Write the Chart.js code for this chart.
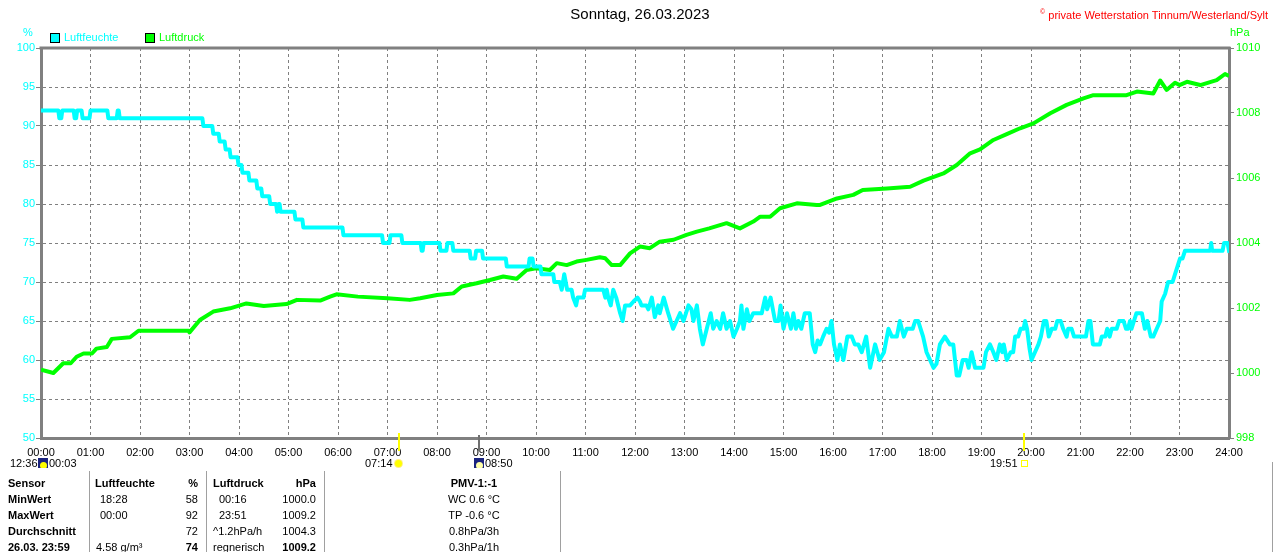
<!DOCTYPE html>
<html>
<head>
<meta charset="utf-8">
<script src="https://cdn.jsdelivr.net/npm/chart.js@4.4.1/dist/chart.umd.min.js"></script>
<style>
  html, body { margin:0; padding:0; background:#fff; }
  #wrap { position:relative; width:1280px; height:552px; overflow:hidden; font-family:"Liberation Sans", Arial, sans-serif; font-size:11px; line-height:13px; }
  #c { position:absolute; left:0; top:0; }
  .t { position:absolute; white-space:nowrap; }
  .b { font-weight:bold; }
  .r { text-align:right; width:80px; }
  .ctr { text-align:center; width:120px; }
  .sep { position:absolute; top:471px; width:1px; height:81px; background:#a0a0a0; }
  .box { position:absolute; width:8px; height:8px; border:1px solid #000; }
  .moon { position:absolute; width:10px; height:10px; background:#1a237e; overflow:hidden; }
  .moon i { position:absolute; left:2px; top:4px; width:7px; height:7px; border-radius:50%; background:#ffff00; }
</style>
</head>
<body>
<div id="wrap">
  <canvas id="c" width="1280" height="552"></canvas>

  <div class="t" style="right:12px; top:5px; color:#ff0000;"><sup style="font-size:7px;">©</sup> private Wetterstation Tinnum/Westerland/Sylt</div>
  <div class="t" style="left:23px; top:26px; color:#00ffff;">%</div>
  <div class="t" style="left:1230px; top:26px; color:#00ff00;">hPa</div>
  <div class="box" style="left:50px; top:33px; background:#00ffff;"></div>
  <div class="t" style="left:64px; top:31px; color:#00ffff;">Luftfeuchte</div>
  <div class="box" style="left:145px; top:33px; background:#00ff00;"></div>
  <div class="t" style="left:159px; top:31px; color:#00ff00;">Luftdruck</div>

  <!-- sun / moon markers -->
  <div style="position:absolute; left:398px; top:433px; width:2px; height:18px; background:#ffff00;"></div>
  <div style="position:absolute; left:1023px; top:433px; width:2px; height:18px; background:#ffff00;"></div>
  <div style="position:absolute; left:478px; top:435px; width:2px; height:16px; background:#707070;"></div>
  <div class="t" style="left:10px; top:457px;">12:36</div>
  <div class="moon" style="left:38px; top:458px;"><i></i></div>
  <div class="t" style="left:49px; top:457px;">00:03</div>
  <div class="t" style="left:365px; top:457px;">07:14</div>
  <div style="position:absolute; left:395px; top:460px; width:7px; height:7px; border-radius:50%; background:#ffff00; box-shadow:0 0 0 1px #ffee88;"></div>
  <div class="moon" style="left:474px; top:458px;"><i style="background:#ffffaa;"></i></div>
  <div class="t" style="left:485px; top:457px;">08:50</div>
  <div class="t" style="left:990px; top:457px;">19:51</div>
  <div style="position:absolute; left:1021px; top:460px; width:5px; height:5px; border:1px solid #ffff00;"></div>

  <!-- table -->
  <div class="sep" style="left:89px;"></div>
  <div class="sep" style="left:206px;"></div>
  <div class="sep" style="left:324px;"></div>
  <div class="sep" style="left:560px;"></div>
  <div class="sep" style="left:1272px; top:462px; height:90px;"></div>

  <div class="t b" style="left:8px; top:477px;">Sensor</div>
  <div class="t b" style="left:95px; top:477px;">Luftfeuchte</div>
  <div class="t b r" style="left:118px; top:477px;">%</div>
  <div class="t b" style="left:213px; top:477px;">Luftdruck</div>
  <div class="t b r" style="left:236px; top:477px;">hPa</div>
  <div class="t b ctr" style="left:414px; top:477px;">PMV-1:-1</div>

  <div class="t b" style="left:8px; top:493px;">MinWert</div>
  <div class="t" style="left:100px; top:493px;">18:28</div>
  <div class="t r" style="left:118px; top:493px;">58</div>
  <div class="t" style="left:219px; top:493px;">00:16</div>
  <div class="t r" style="left:236px; top:493px;">1000.0</div>
  <div class="t ctr" style="left:414px; top:493px;">WC 0.6 °C</div>

  <div class="t b" style="left:8px; top:509px;">MaxWert</div>
  <div class="t" style="left:100px; top:509px;">00:00</div>
  <div class="t r" style="left:118px; top:509px;">92</div>
  <div class="t" style="left:219px; top:509px;">23:51</div>
  <div class="t r" style="left:236px; top:509px;">1009.2</div>
  <div class="t ctr" style="left:414px; top:509px;">TP -0.6 °C</div>

  <div class="t b" style="left:8px; top:525px;">Durchschnitt</div>
  <div class="t r" style="left:118px; top:525px;">72</div>
  <div class="t" style="left:213px; top:525px;">^1.2hPa/h</div>
  <div class="t r" style="left:236px; top:525px;">1004.3</div>
  <div class="t ctr" style="left:414px; top:525px;">0.8hPa/3h</div>

  <div class="t b" style="left:8px; top:541px;">26.03.&nbsp;23:59</div>
  <div class="t" style="left:96px; top:541px;">4.58 g/m³</div>
  <div class="t b r" style="left:118px; top:541px;">74</div>
  <div class="t" style="left:213px; top:541px;">regnerisch</div>
  <div class="t b r" style="left:236px; top:541px;">1009.2</div>
  <div class="t ctr" style="left:414px; top:541px;">0.3hPa/1h</div>
</div>

<script>
// ---- data (time in hours of the day) ----
const hourLabels = ['00:00','01:00','02:00','03:00','04:00','05:00','06:00','07:00','08:00','09:00','10:00','11:00','12:00',
                    '13:00','14:00','15:00','16:00','17:00','18:00','19:00','20:00','21:00','22:00','23:00','24:00'];

// Luftfeuchte (%) – vertices of the recorded curve
const humTimes = [0,0.35,0.37,0.41,0.43,0.66,0.68,0.71,0.73,0.82,0.84,0.98,1.0,1.34,1.36,1.53,1.55,1.57,1.59,3.26,3.28,3.46,3.48,
  3.59,3.61,3.71,3.73,3.81,3.83,3.97,3.99,4.05,4.07,4.19,4.21,4.35,4.37,4.45,4.47,4.61,4.63,4.75,4.77,4.78,4.8,4.82,4.84,5.12,5.14,
  5.28,5.3,6.09,6.11,6.89,6.91,7.04,7.06,7.28,7.3,7.67,7.69,7.71,7.73,8.05,8.07,8.19,8.21,8.31,8.33,8.66,8.68,8.77,8.79,8.91,8.93,
  9.39,9.41,9.85,9.87,9.93,9.95,10.09,10.11,10.35,10.37,10.48,
  10.52,10.57,10.63,10.72,10.75,10.81,10.84,10.96,10.99,11.36,11.4,11.43,11.46,11.51,11.56,11.62,11.7,11.75,11.8,11.9,11.97,12.05,
  12.1,12.13,12.23,12.27,12.34,12.4,12.47,12.5,12.58,12.67,12.77,12.84,12.91,12.98,13.08,13.14,13.18,13.25,13.31,13.37,13.45,13.53,
  13.58,13.65,13.72,13.78,13.85,13.92,13.99,14.06,14.12,14.15,14.19,14.26,14.31,14.39,14.56,14.63,14.67,14.74,14.83,14.9,14.94,15.0,
  15.07,15.15,15.2,15.25,15.3,15.36,15.43,15.53,15.59,15.64,15.69,15.74,15.8,15.87,15.92,15.97,16.02,16.09,16.14,16.21,16.29,16.38,
  16.44,16.51,16.58,16.67,16.75,16.85,16.94,17.03,17.12,17.19,17.29,17.35,17.43,17.49,17.61,17.66,17.72,17.82,17.89,17.96,18.03,
  18.09,18.16,18.26,18.36,18.43,18.5,18.55,18.62,18.7,18.74,18.8,18.87,19.04,19.09,19.17,19.24,19.3,19.37,19.42,19.45,19.51,19.59,
  19.64,19.68,19.74,19.79,19.85,19.88,19.92,19.97,20.01,20.08,20.15,20.2,20.26,20.31,20.36,20.42,20.49,20.53,20.6,20.65,20.72,20.75,
  20.82,20.87,21.11,21.16,21.2,21.25,21.39,21.43,21.5,21.54,21.59,21.63,21.73,21.78,21.87,21.92,21.96,22.0,22.03,22.08,22.13,22.24,
  22.3,22.35,22.42,22.47,22.54,22.61,22.64,22.71,22.77,22.86,22.91,22.96,23.01,23.06,23.11,23.62,23.64,23.66,23.87,23.9,23.97,24.0];
const humValues = [92,92,91,91,92,92,91,91,92,92,91,91,92,92,91,91,92,92,91,91,90,90,89,
  89,88,88,87,87,86,86,85,85,84,84,83,83,82,82,81,81,80,80,79,79,80,80,79,79,78,
  78,77,77,76,76,75,75,76,76,75,75,74,74,75,75,74,74,75,75,74,74,73,73,74,74,73,
  73,72,72,73,73,72,72,71,71,70,70,
  69,71,69,69,68,67,68,68,69,69,68,69,68,67,69,68,66,65,67,67,67.5,68,
  67.5,67,67,66.5,68,65.5,67,66,68,66,64,65,66,65,67,66.5,65,67,64,62,64,66,
  64,65,64,66,64,65,63,64,65,67,64,66.5,65,66,66,68,66.5,68,65,65,67,64,
  66,64,66,64,65,64,66,66,62,61,62.5,62,63,64,63.5,65,62,60,62,60,63,63,
  62,62,61,63,59,62,60,61,64,63,63,65,63,64,64,65,65,63,61,60,59,
  59.5,62,63,62,62,58,58,60,60,59,61,59,59,61,62,61,60,62,61,62,60,61,
  61,63,63,64,64,65,64,61.5,60,61,62,63,65,65,63,64,64,65,65,64,63,64,
  64,63,63,65,65,62,62,63,63,64,63,64,64,65,65,64,64,65,64,65,66,66,
  64,65,63,63,64,65,67.5,68.5,70,70,71,72,73,73,74,74,75,74,74,75,75,74];

// Luftdruck (hPa)
const pressTimes = [0,0.25,0.45,0.6,0.72,0.86,1.03,1.12,1.33,1.43,1.8,1.97,2.98,3.0,3.21,3.48,3.82,4.15,4.5,4.96,5.17,5.64,5.84,5.97,
  6.4,7.0,7.45,7.66,8.0,8.33,8.5,8.8,9.07,9.34,9.61,9.81,10.0,10.28,10.42,10.62,10.82,11.02,11.29,11.4,11.53,11.7,11.9,12.1,12.3,12.5,
  12.78,13.04,13.25,13.5,13.85,14.12,14.39,14.53,14.73,14.93,15.27,15.67,15.74,16.08,16.41,16.6,17.09,17.56,17.83,18.23,18.5,18.77,
  18.97,19.24,19.51,19.78,20.05,20.39,20.72,21.06,21.26,21.93,22.14,22.47,22.61,22.74,22.91,23.0,23.15,23.42,23.75,23.92,24.0];
const pressValues = [1000.1,1000.0,1000.3,1000.3,1000.5,1000.6,1000.6,1000.75,1000.8,1001.05,1001.1,1001.3,1001.3,1001.25,1001.63,
  1001.89,1001.99,1002.14,1002.06,1002.12,1002.25,1002.23,1002.35,1002.42,1002.35,1002.3,1002.25,1002.3,1002.4,1002.45,1002.66,
  1002.76,1002.86,1002.97,1002.9,1003.17,1003.22,1003.17,1003.38,1003.32,1003.43,1003.48,1003.56,1003.53,1003.32,1003.32,1003.68,
  1003.89,1003.84,1004.04,1004.1,1004.25,1004.35,1004.45,1004.61,1004.45,1004.66,1004.81,1004.81,1005.07,1005.22,1005.17,1005.17,
  1005.37,1005.48,1005.63,1005.68,1005.73,1005.92,1006.14,1006.4,1006.76,1006.88,1007.17,1007.35,1007.53,1007.68,1007.99,1008.25,
  1008.45,1008.55,1008.55,1008.66,1008.6,1009.0,1008.71,1008.93,1008.86,1008.96,1008.86,1009.01,1009.2,1009.14];

const FONT = '"Liberation Sans", Arial, sans-serif';
const GRAY = '#808080';

const topFrame = {
  id: 'topFrame',
  afterDraw(chart) {
    const a = chart.chartArea, ctx = chart.ctx;
    ctx.save();
    ctx.strokeStyle = GRAY;
    ctx.lineWidth = 3;
    ctx.beginPath();
    ctx.moveTo(a.left - 1.5, a.top);
    ctx.lineTo(a.right + 1.5, a.top);
    ctx.stroke();
    ctx.restore();
  }
};

new Chart(document.getElementById('c'), {
  type: 'line',
  data: {
    datasets: [
      {
        label: 'Luftfeuchte',
        data: humTimes.map((t, i) => ({ x: t, y: humValues[i] })),
        yAxisID: 'y',
        borderColor: '#00ffff',
        backgroundColor: '#00ffff',
        borderWidth: 4,
        pointRadius: 0,
        tension: 0,
        borderJoinStyle: 'round',
        borderCapStyle: 'square',
        fill: false
      },
      {
        label: 'Luftdruck',
        data: pressTimes.map((t, i) => ({ x: t, y: pressValues[i] })),
        yAxisID: 'y1',
        borderColor: '#00ff00',
        backgroundColor: '#00ff00',
        borderWidth: 4,
        pointRadius: 0,
        tension: 0,
        borderJoinStyle: 'round',
        fill: false
      }
    ]
  },
  options: {
    responsive: false,
    animation: false,
    layout: { padding: 0 },
    plugins: {
      legend: { display: false },
      tooltip: { enabled: false },
      title: {
        display: true,
        text: 'Sonntag, 26.03.2023',
        color: '#000',
        font: { size: 15, weight: 'normal', family: FONT },
        padding: { top: 6, bottom: 24 }
      }
    },
    scales: {
      x: {
        type: 'linear',
        min: 0, max: 24,
        afterFit(s) { s.height = 114; },
        ticks: {
          stepSize: 1, autoSkip: false, maxRotation: 0, minRotation: 0,
          color: '#000', padding: 8,
          font: { size: 11, family: FONT },
          callback: (v) => hourLabels[Math.round(v)]
        },
        grid: { color: GRAY, lineWidth: 1, drawTicks: false },
        border: { display: true, color: GRAY, width: 3, dash: [3, 3] }
      },
      y: {
        position: 'left',
        min: 50, max: 100,
        afterFit(s) { s.width = 41; },
        ticks: { stepSize: 5, color: '#00ffff', padding: 1, font: { size: 11, family: FONT }, callback: (v) => String(v) },
        grid: { color: GRAY, lineWidth: 1, tickLength: 5, tickColor: GRAY },
        border: { display: true, color: GRAY, width: 3, dash: [3, 3] }
      },
      y1: {
        position: 'right',
        min: 998, max: 1010,
        afterFit(s) { s.width = 51; },
        ticks: { stepSize: 2, color: '#00ff00', padding: 2, font: { size: 11, family: FONT }, callback: (v) => String(v) },
        grid: { drawOnChartArea: false, tickLength: 5, tickColor: GRAY, color: GRAY },
        border: { display: true, color: GRAY, width: 3 }
      }
    }
  },
  plugins: [topFrame]
});
</script>
</body>
</html>
